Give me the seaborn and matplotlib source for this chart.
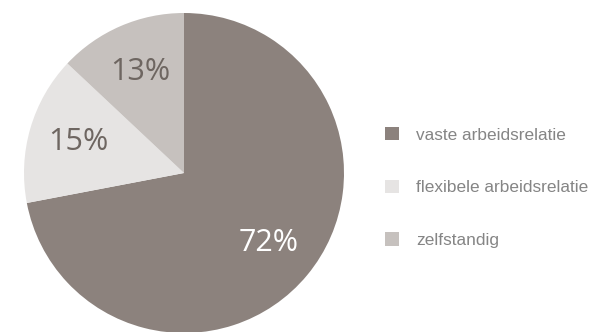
import matplotlib
matplotlib.use("Agg")
import matplotlib.pyplot as plt
import seaborn as sns

categories = ["vaste arbeidsrelatie", "flexibele arbeidsrelatie", "zelfstandig"]
values = [72, 15, 13]
colors = ["#8c827d", "#e6e4e3", "#c6c1be"]
label_colors = ["white", "#6e6661", "#6e6661"]

sns.set_theme(style="white")
plt.rcParams["font.family"] = ["Liberation Sans", "DejaVu Sans"]

fig = plt.figure(figsize=(5.9, 3.32), dpi=100)
ax = fig.add_axes([24 / 590, -1 / 332, 320 / 590, 320 / 332])

wedges, texts, autotexts = ax.pie(
    values, colors=colors, startangle=90, counterclock=False,
    autopct=lambda p: f"{p:.0f}%", pctdistance=0.69, radius=1,
    wedgeprops=dict(linewidth=0),
)
for t, c in zip(autotexts, label_colors):
    t.set_color(c)
    t.set_fontsize(22)
    t.set_fontfamily(["Open Sans", "DejaVu Sans"])
ax.set_xlim(-1, 1)
ax.set_ylim(-1, 1)
ax.set_aspect("equal")
ax.axis("off")

leg = fig.legend(
    wedges, categories, loc="center left",
    bbox_to_anchor=(385 / 590, 0.435), bbox_transform=fig.transFigure,
    frameon=False, fontsize=12.4, handlelength=0.8, handleheight=0.8,
    handletextpad=1.0, labelspacing=2.15, borderpad=0, borderaxespad=0,
)
for t in leg.get_texts():
    t.set_color("#858585")

fig.savefig("out.png", dpi=100)
